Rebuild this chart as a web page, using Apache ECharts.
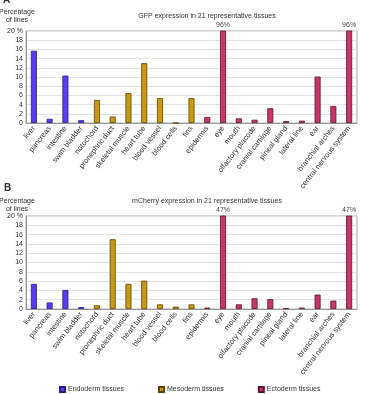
<!DOCTYPE html>
<html>
<head>
<meta charset="utf-8">
<script src="https://cdn.jsdelivr.net/npm/echarts@6/dist/echarts.min.js"></script>
<style>
  html, body { margin: 0; padding: 0; background: #fff; }
  #chart { width: 371px; height: 394px; }
</style>
</head>
<body>
<div id="chart"></div>
<script>
// tissues, in the order shown on the x axis
var tissues = ['liver', 'pancreas', 'intestine', 'swim bladder', 'notochord', 'pronephric duct',
  'skeletal muscle', 'heart tube', 'blood vessel', 'blood cells', 'fins', 'epidermis', 'eye',
  'mouth', 'olfactory placode', 'cranial cartilage', 'pineal gland', 'lateral line', 'ear',
  'branchial arches', 'central nervous system'];
// germ layer of each tissue: 0 endoderm, 1 mesoderm, 2 ectoderm
var layerOf = [0, 0, 0, 0, 1, 1, 1, 1, 1, 1, 1, 2, 2, 2, 2, 2, 2, 2, 2, 2, 2];
var layers = ['Endoderm tissues', 'Mesoderm tissues', 'Ectoderm tissues'];
var layerColors = ['#5a3cf0', '#c9990f', '#c8366a'];
var layerBorders = ['#2c1a86', '#5e4300', '#5c1230'];

// percentage of lines (eye and CNS go off the scale)
var gfpValues = [15.7, 0.9, 10.3, 0.6, 5.0, 1.4, 6.5, 13.0, 5.4, 0, 5.4, 1.3, 96,
  1.0, 0.7, 3.2, 0.4, 0.5, 10.1, 3.7, 96];
var mcherryValues = [5.4, 1.4, 4.1, 0.4, 0.8, 15.0, 5.4, 6.1, 1.0, 0.5, 1.0, 0.3, 47,
  1.0, 2.3, 2.1, 0.2, 0.3, 3.1, 1.8, 47];

var chart = echarts.init(document.getElementById('chart'));
var font = 'Liberation Sans';
var grids = [
  { left: 26, right: 14, top: 31, height: 92, show: true, borderColor: '#aaa', borderWidth: 1 },
  { left: 26, right: 14, top: 216, height: 93, show: true, borderColor: '#aaa', borderWidth: 1 }
];

function xAxisFor(i) {
  return {
    type: 'category', gridIndex: i, data: tissues,
    axisLine: { lineStyle: { color: '#999' } },
    axisTick: { show: false },
    axisLabel: { rotate: 52, fontSize: 7.5, color: '#333', fontFamily: font, margin: 4, interval: 0 }
  };
}
function yAxisFor(i) {
  return {
    type: 'value', gridIndex: i, min: 0, max: 20, interval: 2,
    axisLine: { show: true, lineStyle: { color: '#999' } },
    axisTick: { show: false },
    splitLine: { lineStyle: { color: '#e4e4e4' } },
    axisLabel: {
      fontSize: 7, color: '#333', fontFamily: font, margin: 3,
      formatter: function (v) { return v === 20 ? '20 %' : v; }
    }
  };
}

var series = [];
[gfpValues, mcherryValues].forEach(function (vals, g) {
  layers.forEach(function (name, k) {
    series.push({
      name: name, type: 'bar', xAxisIndex: g, yAxisIndex: g, stack: 'g' + g,
      barWidth: 6, clip: true,
      itemStyle: { color: layerColors[k], borderColor: layerBorders[k], borderWidth: 0.8 },
      label: {
        show: true, position: 'top', distance: 2, fontSize: 7, color: '#444', fontFamily: font,
        formatter: function (p) { return p.value > 20 ? p.value + '%' : ''; }
      },
      data: vals.map(function (v, i) { return layerOf[i] === k ? v : '-'; })
    });
  });
});

function txt(x, y, s, size, bold, align) {
  return {
    type: 'text', x: x, y: y,
    style: {
      text: s, fontSize: size, fontWeight: bold ? 'bold' : 'normal', fill: '#333',
      fontFamily: font, textAlign: align || 'left', textVerticalAlign: 'middle'
    }
  };
}

chart.setOption({
  animation: false,
  graphic: [
    txt(3, 0, 'A', 10, true),
    txt(17, 12, 'Percentage', 7, false, 'center'),
    txt(17, 20, 'of lines', 7, false, 'center'),
    txt(207, 16, 'GFP expression in 21 representative tissues', 7, false, 'center'),
    txt(4, 188, 'B', 10, true),
    txt(17, 201, 'Percentage', 7, false, 'center'),
    txt(17, 209, 'of lines', 7, false, 'center'),
    txt(207, 201, 'mCherry expression in 21 representative tissues', 7, false, 'center')
  ],
  legend: {
    data: layers, left: 59, top: 386, itemWidth: 5, itemHeight: 5, itemGap: 34,
    icon: 'rect', padding: 0,
    textStyle: { fontSize: 7, color: '#333', fontFamily: font, padding: [0, 0, 0, -2] }
  },
  grid: grids,
  xAxis: [xAxisFor(0), xAxisFor(1)],
  yAxis: [yAxisFor(0), yAxisFor(1)],
  series: series
});
</script>
</body>
</html>
